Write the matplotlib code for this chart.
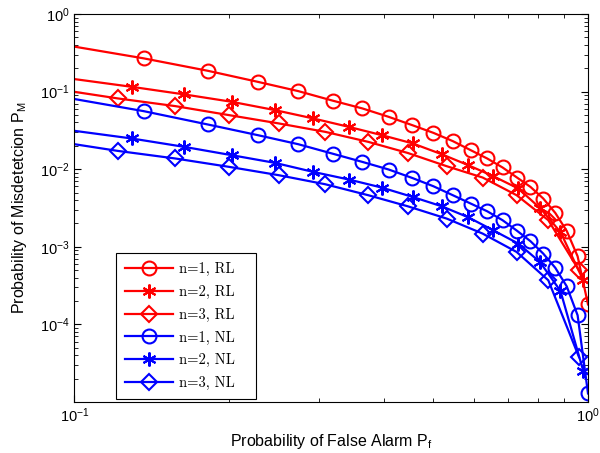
import matplotlib
matplotlib.use("Agg")
import matplotlib.pyplot as plt
from matplotlib.ticker import LogLocator, NullFormatter, FixedLocator

plt.rcParams['font.family'] = ['Liberation Sans', 'DejaVu Sans']
plt.rcParams['axes.formatter.use_mathtext'] = True

# False-alarm grids (first point of each sits just left of 0.1 so the curve reaches the axis)
pf_grid_a = [0.0909, 0.1364, 0.1818, 0.2273, 0.2727, 0.3182, 0.3636, 0.4091, 0.4545,
             0.5000, 0.5455, 0.5909, 0.6364, 0.6818, 0.7273, 0.7727, 0.8182, 0.8636,
             0.9091, 0.9545, 1.0000]
pf_grid_b = [0.0914, 0.1292, 0.1636, 0.2024, 0.2458, 0.2917, 0.3423, 0.3965, 0.4556,
             0.5189, 0.5846, 0.6541, 0.7316, 0.8063, 0.8840, 0.9791]
pf_grid_c = [0.0923, 0.1214, 0.1572, 0.2002, 0.2499, 0.3078, 0.3734, 0.4455, 0.5307,
             0.6235, 0.7263, 0.8370, 0.9605]

# Misdetection probabilities
pm_n1_rl = [0.4224, 0.2682, 0.1855, 0.1338, 0.1015, 0.0765, 0.0607, 0.0473, 0.0370,
            0.0294, 0.0230, 0.0176, 0.01374, 0.01052, 0.00781, 0.00591, 0.00419,
            0.00273, 0.00160, 0.000754, 0.000181]
pm_n2_rl = [0.1571, 0.1153, 0.0920, 0.0739, 0.0577, 0.0451, 0.0351, 0.0275, 0.0215,
            0.0156, 0.01126, 0.00812, 0.00564, 0.00316, 0.00155, 0.000370]
pm_n3_rl = [0.1077, 0.0817, 0.0650, 0.0497, 0.0389, 0.0303, 0.0225, 0.0162, 0.01093,
            0.00781, 0.00462, 0.00220, 0.000497]
pm_n1_nl = [0.0896, 0.0560, 0.0377, 0.0275, 0.0210, 0.01585, 0.01242, 0.00991, 0.00772,
            0.00603, 0.00462, 0.00361, 0.00287, 0.00220, 0.00161, 0.00118, 0.000817,
            0.000536, 0.000309, 0.000131, 1.288e-5]
pm_n2_nl = [0.0338, 0.0249, 0.0194, 0.01516, 0.01206, 0.00923, 0.00736, 0.00580,
            0.00439, 0.00333, 0.00240, 0.00163, 0.00110, 0.000637, 0.000269, 2.50e-5]
pm_n3_nl = [0.0228, 0.01722, 0.01374, 0.01071, 0.00837, 0.00640, 0.00462, 0.00333,
            0.00231, 0.00148, 0.000857, 0.000370, 3.79e-5]

labels = ['n=1, RL', 'n=2, RL', 'n=3, RL', 'n=1, NL', 'n=2, NL', 'n=3, NL']

fig = plt.figure(figsize=(6.0, 4.53), dpi=100)
ax = fig.add_axes([0.124, 0.1126, 0.856, 0.8565])

asterisk = (6, 2, 0)
series = [
    (pf_grid_a, pm_n1_rl, 'red', 'o', 10),
    (pf_grid_b, pm_n2_rl, 'red', asterisk, 10),
    (pf_grid_c, pm_n3_rl, 'red', 'D', 8),
    (pf_grid_a, pm_n1_nl, 'blue', 'o', 10),
    (pf_grid_b, pm_n2_nl, 'blue', asterisk, 10),
    (pf_grid_c, pm_n3_nl, 'blue', 'D', 8),
]
for (x, y, c, m, ms), lab in zip(series, labels):
    ax.plot(x, y, color=c, marker=m, markersize=ms, markerfacecolor='none',
            markeredgecolor=c, markeredgewidth=1.5, linewidth=1.6, label=lab)

ax.set_xscale('log')
ax.set_yscale('log')
ax.set_xlim(0.1, 1.0)
ax.set_ylim(1e-5, 1.0)
ax.yaxis.set_major_locator(FixedLocator([1e-4, 1e-3, 1e-2, 1e-1, 1e0]))
ax.yaxis.set_minor_locator(LogLocator(base=10, subs=range(2, 10), numticks=20))
ax.yaxis.set_minor_formatter(NullFormatter())
ax.xaxis.set_minor_locator(LogLocator(base=10, subs=range(2, 10), numticks=20))
ax.xaxis.set_minor_formatter(NullFormatter())

ax.tick_params(which='both', direction='in', top=True, right=True, labelsize=10.5)
ax.tick_params(which='major', length=5, width=0.8)
ax.tick_params(which='minor', length=3, width=0.6)
for s in ax.spines.values():
    s.set_linewidth(0.8)

ax.set_xlabel(r'Probability of False Alarm $\mathdefault{P_f}$', fontsize=11.5, labelpad=5)
ax.set_ylabel(r'Probability of Misdetetcion $\mathdefault{P_M}$', fontsize=11.5, labelpad=8)

leg = ax.legend(loc='lower left', bbox_to_anchor=(0.081, 0.008, 0.272, 0.37),
                mode='expand', borderaxespad=0,
                prop={'family': ['cmr10', 'DejaVu Serif'], 'size': 10.5},
                handlelength=3.3, labelspacing=0.6, handletextpad=0.45,
                borderpad=0.6, fancybox=False, framealpha=1, edgecolor='black')
leg.get_frame().set_linewidth(0.8)

fig.savefig('out.png', dpi=100)
